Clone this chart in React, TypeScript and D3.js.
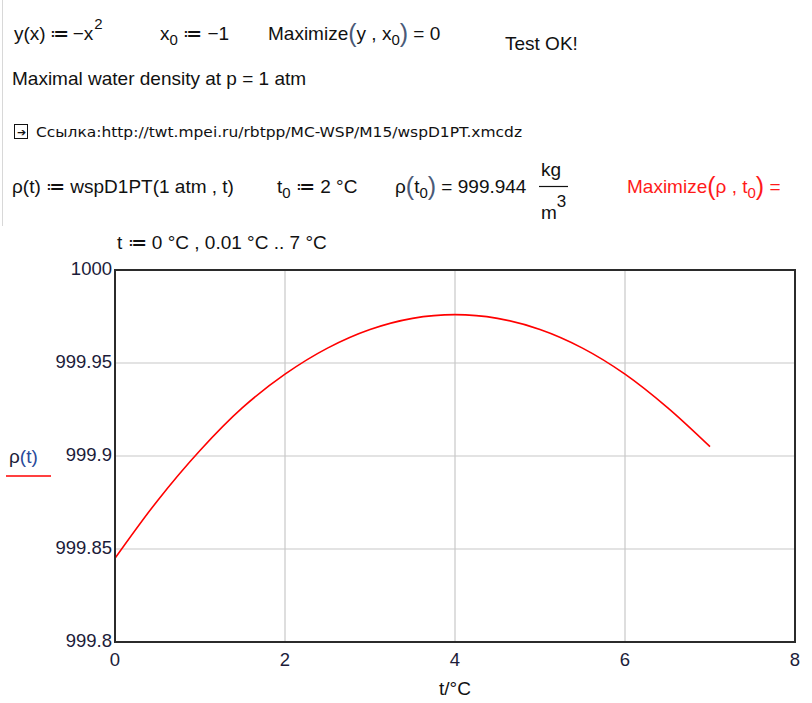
import React from "react";
import * as d3 from "d3";

const tValues = [0, 0.5, 1, 1.5, 2, 2.5, 3, 3.5, 4, 4.5, 5, 5.5, 6, 6.5, 7];
const rhoValues = [999.845, 999.876, 999.903, 999.926, 999.944, 999.958, 999.968, 999.974, 999.976, 999.974, 999.968, 999.958, 999.944, 999.926, 999.905];
const xTicks = [0, 2, 4, 6, 8];
const yTicks = [999.8, 999.85, 999.9, 999.95, 1000];
const yTickLabels = ["999.8", "999.85", "999.9", "999.95", "1000"];

const W = 812, H = 703;
const L = 115, R = 795, T = 270, B = 642;

export default function App() {
  const x = d3.scaleLinear().domain([0, 8]).range([L, R]);
  const y = d3.scaleLinear().domain([999.8, 1000]).range([B, T]);
  const line = d3.line<number>()
    .x((_, i) => x(tValues[i]))
    .y((d) => y(d))
    .curve(d3.curveCatmullRom.alpha(0.5));
  const font = "'Liberation Sans', Arial, sans-serif";
  const ink = "#111";
  const br = "#4a5a78";
  const fs = 19;
  const sub = 15;
  const big = 25;
  return (
    <svg width={W} height={H} style={{ position: "absolute", left: 0, top: 0, background: "#fff" }} fontFamily={font}>
      <line x1={2.5} y1={0} x2={2.5} y2={226} stroke="#d8d8d8" />
      <g fontSize={fs} fill={ink}>
        <text x={14} y={40}>y(x)<tspan dx={4}>≔</tspan><tspan dx={4}>−x</tspan><tspan dx={1} dy={-11} fontSize={sub}>2</tspan></text>
        <text x={160} y={40}>x<tspan dy={5} fontSize={sub}>0</tspan><tspan dy={-5}> ≔ −1</tspan></text>
        <text x={268} y={40}>Maximize<tspan fontSize={big} dy={2} fill={br}>(</tspan><tspan dy={-2}>y , x</tspan><tspan dy={5} fontSize={sub}>0</tspan><tspan dy={-3} fontSize={big} fill={br}>)</tspan><tspan dy={-2}> = 0</tspan></text>
        <text x={505} y={50}>Test OK!</text>
        <text x={12} y={85}>Maximal water density at p = 1 atm</text>
      </g>
      <rect x={14.5} y={124.5} width={13} height={14} fill="none" stroke="#111" />
      <text x={21} y={135.5} fontSize={11} fill="#111" textAnchor="middle">➔</text>
      <text x={36} y={137} fontSize={14} fill={ink} fontFamily="'DejaVu Sans Condensed', 'DejaVu Sans', sans-serif" textLength={486} lengthAdjust="spacingAndGlyphs">Ссылка:http://twt.mpei.ru/rbtpp/MC-WSP/M15/wspD1PT.xmcdz</text>
      <g fontSize={fs} fill={ink}>
        <text x={12} y={193}>ρ(t) ≔ wspD1PT(1 atm , t)</text>
        <text x={277} y={193}>t<tspan dy={5} fontSize={sub}>0</tspan><tspan dy={-5}> ≔ 2 °C</tspan></text>
        <text x={395} y={193}>ρ<tspan fontSize={big} dy={2} fill={br}>(</tspan><tspan dy={-2}>t</tspan><tspan dy={5} fontSize={sub}>0</tspan><tspan dy={-3} fontSize={big} fill={br}>)</tspan><tspan dy={-2}> = 999.944</tspan></text>
        <text x={541} y={176}>kg</text>
        <line x1={539} x2={568} y1={186.5} y2={186.5} stroke={ink} strokeWidth={1.2} />
        <text x={541} y={219}>m<tspan dy={-12} fontSize={sub + 2}>3</tspan></text>
        <text x={627} y={193} fill="#ff1a1a">Maximize<tspan fontSize={big} dy={2}>(</tspan><tspan dy={-2}>ρ , t</tspan><tspan dy={5} fontSize={sub}>0</tspan><tspan dy={-3} fontSize={big}>)</tspan><tspan dy={-2}> =</tspan></text>
        <text x={117} y={249}>t ≔ 0 °C , 0.01 °C .. 7 °C</text>
      </g>
      {xTicks.slice(1, -1).map((t) => (
        <line key={"gx" + t} x1={x(t)} x2={x(t)} y1={T} y2={B} stroke="#c8c8c8" strokeWidth={1.2} />
      ))}
      {yTicks.slice(1, -1).map((v) => (
        <line key={"gy" + v} x1={L} x2={R} y1={y(v)} y2={y(v)} stroke="#c8c8c8" strokeWidth={1.2} />
      ))}
      <path d={line(rhoValues) || ""} fill="none" stroke="#ff0000" strokeWidth={1.6} />
      <rect x={L} y={T} width={R - L} height={B - T} fill="none" stroke="#2b2b2b" strokeWidth={2} />
      <g fontSize={18.5} fill="#1c1c3a">
        {yTicks.map((v, i) => (
          <text key={"yl" + v} x={L - 3} y={y(v) + 5} textAnchor="end">{yTickLabels[i]}</text>
        ))}
        {xTicks.map((t) => (
          <text key={"xl" + t} x={x(t)} y={B + 24} textAnchor="middle">{t}</text>
        ))}
      </g>
      <text x={455} y={695} fontSize={fs} fill={ink} textAnchor="middle">t/°C</text>
      <text x={9} y={463} fontSize={fs} fill="#1c1c3a">ρ<tspan fill="#2a4a9a">(t)</tspan></text>
      <line x1={6} x2={51} y1={476} y2={476} stroke="#ff0000" strokeWidth={1.3} />
    </svg>
  );
}
